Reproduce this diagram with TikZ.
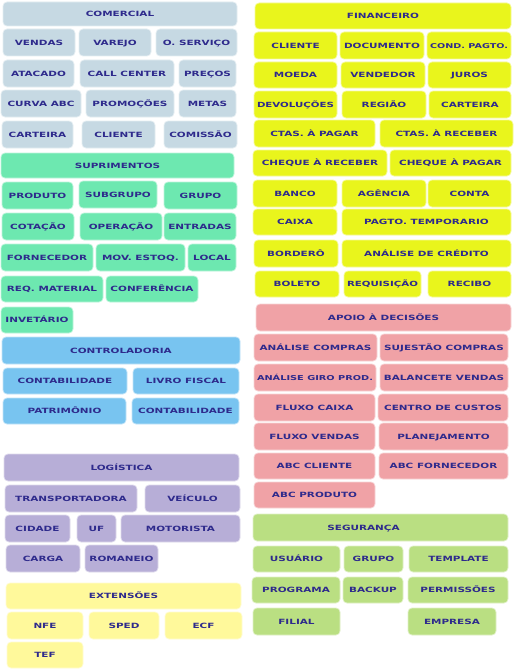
\documentclass[tikz,border=0pt]{standalone}
\usepackage{fontspec}
\usepackage{graphicx}
\newfontfamily\lblfont[FakeStretch=1.45]{DejaVu Sans Bold}
\definecolor{ccom}{HTML}{C6D9E3}
\definecolor{csup}{HTML}{6DE8B0}
\definecolor{cctl}{HTML}{78C4F0}
\definecolor{clog}{HTML}{B7AED7}
\definecolor{cext}{HTML}{FFF99B}
\definecolor{cfin}{HTML}{E9F51C}
\definecolor{capo}{HTML}{F0A2A6}
\definecolor{cseg}{HTML}{BADF82}
\definecolor{txt}{HTML}{2E2A8C}
\newsavebox\fitbox
\newdimen\fitw
\newcommand\fitt[2]{\sbox\fitbox{#2}\fitw=\dimexpr#1\relax\ifdim\wd\fitbox>\fitw\resizebox{\fitw}{!}{\usebox\fitbox}\else\usebox\fitbox\fi}
\newcommand\bx[7]{%
  \pgfmathsetmacro\bw{#5-#3}\pgfmathsetmacro\bh{#6-#4}%
  \pgfmathsetmacro\cx{(#3+#5)/2}\pgfmathsetmacro\cy{(#4+#6)/2}%
  \node[cell=#1, minimum width=\bw pt, minimum height=\bh pt] (#2) at (\cx,\cy) {\fitt{\bw pt-6pt}{#7}};}
\tikzset{
  cell/.style={rounded corners=4pt, fill=#1, draw=#1!45!white, line width=0.7pt,
    inner sep=0pt, text=txt, text height=5.2pt, text depth=0pt,
    font=\lblfont\fontsize{7.2}{8}\selectfont}
}
\begin{document}
\begin{tikzpicture}[x=1pt,y=-1pt]
\fill[white] (0,0) rectangle (514,669);
\useasboundingbox (0,0) rectangle (514,669);
% Comercial
\bx{ccom}{com0}{3}{2}{237}{26}{COMERCIAL}
\bx{ccom}{com1}{3}{29}{75}{56}{VENDAS}
\bx{ccom}{com2}{79}{29}{151}{56}{VAREJO}
\bx{ccom}{com3}{156}{29}{237}{56}{O. SERVIÇO}
\bx{ccom}{com4}{3}{60}{74}{87}{ATACADO}
\bx{ccom}{com5}{80}{60}{174}{87}{CALL CENTER}
\bx{ccom}{com6}{179}{60}{236}{87}{PREÇOS}
\bx{ccom}{com7}{1}{90}{81}{117}{CURVA ABC}
\bx{ccom}{com8}{86}{90}{174}{117}{PROMOÇÕES}
\bx{ccom}{com9}{179}{90}{236}{117}{METAS}
\bx{ccom}{com10}{2}{121}{73}{148}{CARTEIRA}
\bx{ccom}{com11}{82}{121}{155}{148}{CLIENTE}
\bx{ccom}{com12}{164}{121}{237}{148}{COMISSÃO}
% Suprimentos
\bx{csup}{sup0}{1}{153}{234}{178}{SUPRIMENTOS}
\bx{csup}{sup1}{2}{182}{73}{209}{PRODUTO}
\bx{csup}{sup2}{79}{181}{157}{208}{SUBGRUPO}
\bx{csup}{sup3}{164}{182}{237}{209}{GRUPO}
\bx{csup}{sup4}{2}{213}{74}{240}{COTAÇÃO}
\bx{csup}{sup5}{80}{213}{162}{240}{OPERAÇÃO}
\bx{csup}{sup6}{164}{213}{236}{240}{ENTRADAS}
\bx{csup}{sup7}{1}{244}{93}{271}{FORNECEDOR}
\bx{csup}{sup8}{96}{244}{185}{271}{MOV. ESTOQ.}
\bx{csup}{sup9}{188}{244}{236}{271}{LOCAL}
\bx{csup}{sup10}{1}{276}{103}{302}{REQ. MATERIAL}
\bx{csup}{sup11}{106}{276}{198}{302}{CONFERÊNCIA}
\bx{csup}{sup12}{1}{307}{73}{333}{INVETÁRIO}
% Controladoria
\bx{cctl}{ctl0}{2}{337}{240}{364}{CONTROLADORIA}
\bx{cctl}{ctl1}{3}{368}{127}{394}{CONTABILIDADE}
\bx{cctl}{ctl2}{133}{368}{239}{394}{LIVRO FISCAL}
\bx{cctl}{ctl3}{3}{398}{126}{424}{PATRIMÔNIO}
\bx{cctl}{ctl4}{132}{398}{239}{424}{CONTABILIDADE}
% Logistica
\bx{clog}{log0}{4}{454}{239}{481}{LOGÍSTICA}
\bx{clog}{log1}{5}{485}{137}{512}{TRANSPORTADORA}
\bx{clog}{log2}{145}{485}{240}{512}{VEÍCULO}
\bx{clog}{log3}{5}{515}{70}{542}{CIDADE}
\bx{clog}{log4}{77}{515}{116}{542}{UF}
\bx{clog}{log5}{121}{515}{240}{542}{MOTORISTA}
\bx{clog}{log6}{6}{545}{80}{572}{CARGA}
\bx{clog}{log7}{85}{545}{158}{572}{ROMANEIO}
% Extensoes
\bx{cext}{ext0}{6}{583}{241}{609}{EXTENSÕES}
\bx{cext}{ext1}{7}{612}{83}{639}{NFE}
\bx{cext}{ext2}{89}{612}{159}{639}{SPED}
\bx{cext}{ext3}{165}{612}{242}{639}{ECF}
\bx{cext}{ext4}{7}{642}{83}{668}{TEF}
% Financeiro
\bx{cfin}{fin0}{255}{3}{511}{29}{FINANCEIRO}
\bx{cfin}{fin1}{254}{32}{337}{59}{CLIENTE}
\bx{cfin}{fin2}{340}{32}{424}{59}{DOCUMENTO}
\bx{cfin}{fin3}{427}{32}{511}{59}{COND. PAGTO.}
\bx{cfin}{fin4}{254}{62}{337}{88}{MOEDA}
\bx{cfin}{fin5}{341}{62}{425}{88}{VENDEDOR}
\bx{cfin}{fin6}{428}{62}{511}{88}{JUROS}
\bx{cfin}{fin7}{254}{91}{337}{118}{DEVOLUÇÕES}
\bx{cfin}{fin8}{342}{91}{426}{118}{REGIÃO}
\bx{cfin}{fin9}{429}{91}{511}{118}{CARTEIRA}
\bx{cfin}{fin10}{254}{120}{375}{147}{CTAS. À PAGAR}
\bx{cfin}{fin11}{380}{120}{513}{147}{CTAS. À RECEBER}
\bx{cfin}{fin12}{253}{150}{387}{176}{CHEQUE À RECEBER}
\bx{cfin}{fin13}{390}{150}{511}{176}{CHEQUE À PAGAR}
\bx{cfin}{fin14}{253}{180}{337}{207}{BANCO}
\bx{cfin}{fin15}{342}{180}{426}{207}{AGÊNCIA}
\bx{cfin}{fin16}{428}{180}{511}{207}{CONTA}
\bx{cfin}{fin17}{253}{209}{337}{235}{CAIXA}
\bx{cfin}{fin18}{342}{209}{511}{235}{PAGTO. TEMPORARIO}
\bx{cfin}{fin19}{254}{240}{338}{267}{BORDERÔ}
\bx{cfin}{fin20}{342}{240}{511}{267}{ANÁLISE DE CRÉDITO}
\bx{cfin}{fin21}{255}{271}{339}{297}{BOLETO}
\bx{cfin}{fin22}{344}{271}{421}{297}{REQUISIÇÃO}
\bx{cfin}{fin23}{428}{271}{511}{297}{RECIBO}
% Apoio a decisoes
\bx{capo}{apo0}{256}{304}{511}{331}{APOIO À DECISÕES}
\bx{capo}{apo1}{254}{334}{377}{361}{ANÁLISE COMPRAS}
\bx{capo}{apo2}{380}{334}{508}{361}{SUJESTÃO COMPRAS}
\bx{capo}{apo3}{254}{364}{376}{391}{ANÁLISE GIRO PROD.}
\bx{capo}{apo4}{380}{364}{508}{391}{BALANCETE VENDAS}
\bx{capo}{apo5}{254}{394}{375}{421}{FLUXO CAIXA}
\bx{capo}{apo6}{378}{394}{508}{421}{CENTRO DE CUSTOS}
\bx{capo}{apo7}{254}{423}{375}{450}{FLUXO VENDAS}
\bx{capo}{apo8}{379}{423}{508}{450}{PLANEJAMENTO}
\bx{capo}{apo9}{254}{453}{375}{479}{ABC CLIENTE}
\bx{capo}{apo10}{379}{453}{508}{479}{ABC FORNECEDOR}
\bx{capo}{apo11}{254}{482}{375}{508}{ABC PRODUTO}
% Seguranca
\bx{cseg}{seg0}{253}{514}{508}{541}{SEGURANÇA\hspace*{34pt}}
\bx{cseg}{seg1}{253}{546}{340}{572}{USUÁRIO}
\bx{cseg}{seg2}{344}{546}{403}{572}{GRUPO}
\bx{cseg}{seg3}{409}{546}{508}{572}{TEMPLATE}
\bx{cseg}{seg4}{252}{577}{340}{603}{PROGRAMA}
\bx{cseg}{seg5}{343}{577}{403}{603}{BACKUP}
\bx{cseg}{seg6}{408}{577}{508}{603}{PERMISSÕES}
\bx{cseg}{seg7}{253}{608}{340}{635}{FILIAL}
\bx{cseg}{seg8}{408}{608}{496}{635}{EMPRESA}
\end{tikzpicture}
\end{document}
